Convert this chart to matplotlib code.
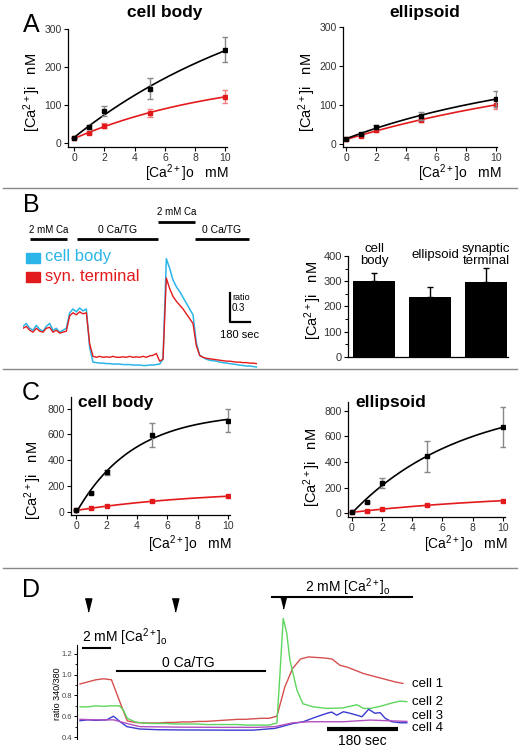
import numpy as np
import matplotlib
matplotlib.use("Agg")
import matplotlib.pyplot as plt
from matplotlib.lines import Line2D
from matplotlib.ticker import MultipleLocator, FixedLocator

W, H = 520, 749
plt.rcParams["font.family"] = ["Liberation Sans", "DejaVu Sans"]
plt.rcParams["mathtext.fontset"] = "custom"
plt.rcParams["mathtext.rm"] = "Liberation Sans"
plt.rcParams["mathtext.it"] = "Liberation Sans:italic"
plt.rcParams["mathtext.bf"] = "Liberation Sans:bold"

RED = "#e31a1c"
CYAN = "#2bb5e8"

# ---- panels A and C: dose response, [Ca2+]o in mM -> [Ca2+]i in nM
conc = [0, 1, 2, 5, 10]

a_body_black = [13, 42, 85, 143, 245]
a_body_black_err = [0, 5, 13, 27, 33]
a_body_red = [13, 26, 46, 80, 122]
a_body_red_err = [0, 3, 6, 10, 17]

a_ell_black = [13, 25, 43, 72, 115]
a_ell_black_err = [0, 3, 6, 10, 20]
a_ell_red = [12, 20, 34, 62, 100]
a_ell_red_err = [0, 3, 4, 6, 12]

c_body_black = [15, 145, 305, 595, 705]
c_body_black_err = [0, 10, 20, 95, 90]
c_body_red = [10, 25, 45, 80, 120]
c_body_red_err = [0, 3, 5, 8, 10]

c_ell_black = [10, 86, 234, 445, 672]
c_ell_black_err = [0, 10, 39, 120, 155]
c_ell_red = [10, 13, 28, 65, 96]
c_ell_red_err = [0, 3, 4, 6, 8]

# ---- panel B: fura ratio traces (time in s)
b_time = list(range(0, 2101, 30))
b_body = [0.92, 0.95, 0.90, 0.88, 0.93, 0.89, 0.87, 0.92, 0.95, 0.88, 0.90, 0.86, 0.88, 0.90,
          1.06, 1.10, 1.07, 1.11, 1.08, 1.10,
          0.70, 0.55,
          0.545, 0.54, 0.54, 0.535, 0.535, 0.53, 0.53, 0.53, 0.525, 0.525, 0.525, 0.52, 0.52,
          0.52, 0.515, 0.515, 0.52, 0.52, 0.525,
          0.53, 0.58, 1.62, 1.52, 1.40, 1.33, 1.28, 1.22, 1.16, 1.10, 1.04, 0.75, 0.62,
          0.60, 0.58, 0.57, 0.565, 0.56, 0.55, 0.545, 0.54, 0.535, 0.53, 0.525, 0.52, 0.515,
          0.51, 0.51, 0.505, 0.50]
b_term = [0.90, 0.92, 0.88, 0.86, 0.90, 0.87, 0.86, 0.90, 0.91, 0.86, 0.88, 0.85, 0.86, 0.87,
          1.03, 1.06, 1.04, 1.07, 1.05, 1.06,
          0.74, 0.61,
          0.60, 0.61, 0.60, 0.605, 0.60, 0.61, 0.60, 0.60, 0.605, 0.60, 0.61, 0.60, 0.605,
          0.60, 0.61, 0.60, 0.615, 0.62, 0.64,
          0.56, 0.58, 1.42, 1.31, 1.23, 1.18, 1.14, 1.10, 1.05, 1.00, 0.95, 0.72, 0.62,
          0.60, 0.59, 0.585, 0.58, 0.575, 0.57, 0.565, 0.56, 0.56, 0.555, 0.55, 0.55, 0.545,
          0.545, 0.54, 0.54, 0.535]
b_protocol = [("2 mM Ca", 63, 396, 1.82, 7), ("0 Ca/TG", 486, 1215, 1.82, 7.5),
              ("2 mM Ca", 1215, 1548, 2.0, 7), ("0 Ca/TG", 1548, 2034, 1.82, 7.5)]

bar_names = ["cell\nbody", "ellipsoid", "synaptic\nterminal"]
bar_vals = [300, 239, 298]
bar_err = [31, 37, 53]

# ---- panel D: single cell traces
d_time = list(range(0, 821, 20))
d_cell1 = [0.91, 0.93, 0.95, 0.96, 0.95, 0.75, 0.555, 0.54, 0.535, 0.535, 0.535, 0.54, 0.54,
           0.545, 0.545, 0.55, 0.55, 0.555, 0.56, 0.565, 0.57, 0.57, 0.575, 0.58, 0.58, 0.60,
           0.88, 1.06, 1.15, 1.17, 1.165, 1.16, 1.15, 1.09, 1.07, 1.04, 1.01, 0.99, 0.97, 0.95,
           0.93, 0.915]
d_time2 = [0, 20, 40, 60, 80, 100, 110, 120, 140, 160, 180, 200, 220, 240, 260, 280, 300, 320,
           340, 360, 380, 400, 420, 440, 460, 480, 500, 508, 516, 525, 533, 551, 566, 592, 627,
           668, 703, 720, 737, 762, 795, 813, 830]
d_cell2 = [0.69, 0.69, 0.70, 0.695, 0.70, 0.70, 0.66, 0.58, 0.545, 0.535, 0.53, 0.53, 0.53,
           0.525, 0.525, 0.525, 0.525, 0.52, 0.52, 0.52, 0.52, 0.52, 0.515, 0.515, 0.515, 0.515,
           0.535, 1.02, 1.54, 1.40, 1.14, 0.85, 0.72, 0.69, 0.675, 0.68, 0.71, 0.675, 0.675,
           0.695, 0.73, 0.745, 0.74]
d_time3 = [0, 20, 40, 68, 85, 102, 119, 152, 200, 260, 320, 380, 440, 495, 541, 567, 601, 627,
           639, 652, 669, 686, 703, 716, 733, 749, 762, 775, 792, 813, 830]
d_cell3 = [0.557, 0.565, 0.56, 0.565, 0.60, 0.547, 0.50, 0.477, 0.47, 0.468, 0.467, 0.466,
           0.466, 0.483, 0.53, 0.547, 0.595, 0.628, 0.64, 0.61, 0.643, 0.628, 0.61, 0.595,
           0.667, 0.628, 0.635, 0.58, 0.547, 0.537, 0.537]
d_time4 = [0, 40, 85, 119, 152, 250, 350, 450, 495, 541, 584, 669, 737, 779, 830]
d_cell4 = [0.57, 0.565, 0.565, 0.53, 0.50, 0.495, 0.493, 0.493, 0.50, 0.537, 0.547, 0.547,
           0.563, 0.557, 0.55]
d_colors = ["#d64f4f", "#5cd65c", "#3b3bcf", "#b050c0"]
d_labels = ["cell 1", "cell 2", "cell 3", "cell 4"]
d_label_y = [0.91, 0.737, 0.598, 0.485]

CA_I = r"[Ca$^{2+}$]i   nM"
CA_O = r"[Ca$^{2+}$]o   mM"

fig = plt.figure(figsize=(W / 100, H / 100), dpi=100)


def px_axes(left, top, right, bottom):
    return fig.add_axes([left / W, 1 - bottom / H, (right - left) / W, (bottom - top) / H])


def ftext(x, y, s, **kw):
    kw.setdefault("ha", "center")
    kw.setdefault("va", "center")
    return fig.text(x / W, 1 - y / H, s, **kw)


def sat_fit(x, y):
    # least squares fit of y = a + b * (1 - exp(-x / tau))
    x = np.asarray(x, float)
    y = np.asarray(y, float)
    best = None
    for tau in np.linspace(0.5, 300, 1200):
        basis = np.column_stack([np.ones_like(x), 1 - np.exp(-x / tau)])
        coef = np.linalg.lstsq(basis, y, rcond=None)[0]
        err = np.sum((basis @ coef - y) ** 2)
        if best is None or err < best[0]:
            best = (err, tau, coef)
    _, tau, coef = best
    xs = np.linspace(0, 10, 200)
    return xs, coef[0] + coef[1] * (1 - np.exp(-xs / tau))


def style(ax, size=7.5):
    for s in ("top", "right"):
        ax.spines[s].set_visible(False)
    for s in ("left", "bottom"):
        ax.spines[s].set_linewidth(0.9)
    ax.tick_params(direction="out", length=3, width=0.8, labelsize=size, labelcolor="#333",
                   pad=1.5)
    ax.tick_params(which="minor", length=2, width=0.7)
    ax.set_facecolor("none")


def dose_panel(box, xlim, ylim, ystep, black, black_err, red, red_err):
    ax = px_axes(*box)
    for y, e, c, ec in ((red, red_err, RED, "#f08080"), (black, black_err, "black", "#888888")):
        xs, ys = sat_fit(conc, y)
        ax.plot(xs, ys, color=c, lw=1.2)
        ax.errorbar(conc, y, yerr=e, fmt="none", ecolor=ec, elinewidth=1, capsize=2.2)
        ax.plot(conc, y, "s", color=c, ms=3.2)
    ax.set_xlim(*xlim)
    ax.set_ylim(*ylim)
    ax.set_xticks([0, 2, 4, 6, 8, 10])
    ax.set_yticks(np.arange(0, ylim[1] + 1, ystep))
    ax.spines["left"].set_bounds(ylim[0], ylim[1])
    style(ax)
    return ax


# ---------------- panel A
dose_panel((68, 29, 227, 147), (-0.4, 10.1), (-10, 300), 100,
           a_body_black, a_body_black_err, a_body_red, a_body_red_err)
dose_panel((343, 27, 497, 147), (-0.22, 10.05), (-8.5, 300), 100,
           a_ell_black, a_ell_black_err, a_ell_red, a_ell_red_err)
ftext(31, 25, "A", fontsize=18)
ftext(165, 12, "cell body", fontsize=12.5, weight="bold")
ftext(425, 12, "ellipsoid", fontsize=12.5, weight="bold")
ftext(187, 173, CA_O, fontsize=10)
ftext(460, 173, CA_O, fontsize=10)
ftext(32, 92, CA_I, fontsize=10.5, rotation=90)
ftext(307, 92, CA_I, fontsize=10.5, rotation=90)

# ---------------- panel B traces
axb = px_axes(23, 200, 262, 372)
axb.set_xlim(0, 2151)
axb.set_ylim(0.448, 2.227)
axb.axis("off")
axb.plot(b_time, b_body, color=CYAN, lw=1.1)
axb.plot(b_time, b_term, color=RED, lw=1.0)
for label, t0, t1, yy, fs in b_protocol:
    axb.plot([t0, t1], [yy, yy], color="black", lw=2, solid_capstyle="butt")
    axb.text((t0 + t1) / 2, yy + 0.05, label, ha="center", va="bottom", fontsize=fs)
# scale bar: 180 s x 0.3 ratio
axb.plot([1863, 1863, 1863 + 180], [0.965 + 0.3, 0.965, 0.965], color="black", lw=1.6)
axb.text(1881, 1.22, "ratio", fontsize=6.5, va="center")
axb.text(1881, 1.11, "0.3", fontsize=7, va="center")
axb.text(1953, 0.83, "180 sec", fontsize=8, ha="center", va="center")
ftext(31, 205, "B", fontsize=18)
fig.patches.append(plt.Rectangle((26 / W, 1 - 263 / H), 14 / W, 10 / H, color=CYAN,
                                 transform=fig.transFigure))
fig.patches.append(plt.Rectangle((26 / W, 1 - 282 / H), 14 / W, 10 / H, color=RED,
                                 transform=fig.transFigure))
ftext(45, 257, "cell body", fontsize=12, color=CYAN, ha="left")
ftext(45, 276, "syn. terminal", fontsize=12, color=RED, ha="left")

# ---------------- panel B bars
axbar = px_axes(348, 256, 508, 357)
axbar.bar(range(len(bar_vals)), bar_vals, width=0.75, color="black")
axbar.errorbar(range(len(bar_vals)), bar_vals, yerr=[[0] * 3, bar_err], fmt="none",
               ecolor="black", elinewidth=1, capsize=2.5)
axbar.set_xlim(-0.464, 2.39)
axbar.set_ylim(0, 400)
axbar.set_xticks([])
axbar.set_yticks([0, 100, 200, 300, 400])
axbar.yaxis.set_minor_locator(MultipleLocator(50))
style(axbar, size=8)
for i, name in enumerate(bar_names):
    axbar.text(i + (0.1 if i == 1 else 0), 1.01, name, transform=axbar.get_xaxis_transform(),
               ha="center", va="center", fontsize=9.5, linespacing=1.0)
ftext(313, 300, CA_I, fontsize=10.5, rotation=90)

# ---------------- panel C
axc1 = dose_panel((71, 397, 230, 515), (-0.35, 10.13), (-26, 890), 200,
                  c_body_black, c_body_black_err, c_body_red, c_body_red_err)
axc2 = dose_panel((348, 402, 505, 517), (-0.25, 10.15), (-31, 870), 200,
                  c_ell_black, c_ell_black_err, c_ell_red, c_ell_red_err)
axc1.set_yticks([0, 200, 400, 600, 800])
axc2.set_yticks([0, 200, 400, 600, 800])
ftext(31, 393, "C", fontsize=18)
ftext(78, 402, "cell body", fontsize=12.5, weight="bold", ha="left")
ftext(355, 403, "ellipsoid", fontsize=12.5, weight="bold", ha="left")
ftext(190, 544, CA_O, fontsize=10)
ftext(466, 544, CA_O, fontsize=10)
ftext(33, 480, CA_I, fontsize=10.5, rotation=90)
ftext(312, 467, CA_I, fontsize=10.5, rotation=90)

# ---------------- panel D
axd = px_axes(77, 581, 410, 739)
axd.set_xlim(-7.6, 838)
axd.set_ylim(0.381, 1.90)
for t, v, c in zip((d_time, d_time2, d_time3, d_time4), (d_cell1, d_cell2, d_cell3, d_cell4),
                   d_colors):
    axd.plot(t, v, color=c, lw=1.0)
for lab, yy in zip(d_labels, d_label_y):
    axd.text(843, yy, lab, fontsize=9.5, va="center", ha="left", clip_on=False)
for s in ("top", "right", "bottom"):
    axd.spines[s].set_visible(False)
axd.spines["left"].set_bounds(0.381, 1.285)
axd.spines["left"].set_linewidth(0.8)
axd.set_xticks([])
axd.set_yticks([0.4, 0.6, 0.8, 1.0, 1.2])
axd.set_yticklabels(["0.4", "0.6", "0.8", "1.0", "1.2"])
axd.yaxis.set_minor_locator(FixedLocator([0.5, 0.7, 0.9, 1.1]))
axd.tick_params(direction="out", length=2.5, width=0.7, labelsize=5.5, labelcolor="#444", pad=1)
axd.tick_params(which="minor", length=1.5, width=0.6)
axd.set_facecolor("none")
tri = [(-0.5, 1), (0.5, 1), (0, -1)]
axd.plot([20, 241], [1.67, 1.67], ls="none", marker=tri, ms=9.5, color="black", clip_on=False)
axd.plot([516], [1.69], ls="none", marker=tri, ms=8, color="black", clip_on=False)
axd.plot([8, 76], [1.256, 1.256], color="black", lw=1.5)
axd.text(5, 1.36, r"2 mM [Ca$^{2+}$]$_{\rm o}$", fontsize=10, va="center")
axd.plot([94, 470], [1.035, 1.035], color="black", lw=1.5)
axd.text(274, 1.112, "0 Ca/TG", fontsize=10, ha="center", va="center")
axd.plot([488, 843], [1.747, 1.747], color="black", lw=1.5, clip_on=False)
axd.text(681, 1.843, r"2 mM [Ca$^{2+}$]$_{\rm o}$", fontsize=10, ha="center", va="center")
axd.plot([627, 808], [0.477, 0.477], color="black", lw=3, solid_capstyle="butt")
axd.text(717, 0.361, "180 sec", fontsize=10, ha="center", va="center", clip_on=False)
ftext(31, 590, "D", fontsize=18)
ftext(57, 694, "ratio 340/380", fontsize=6.5, rotation=90)

# separator lines
for yy in (188, 369, 568):
    fig.add_artist(Line2D([3 / W, 517 / W], [1 - yy / H, 1 - yy / H], color="#888888", lw=1.0,
                          transform=fig.transFigure))

fig.savefig("out.png", dpi=100)
